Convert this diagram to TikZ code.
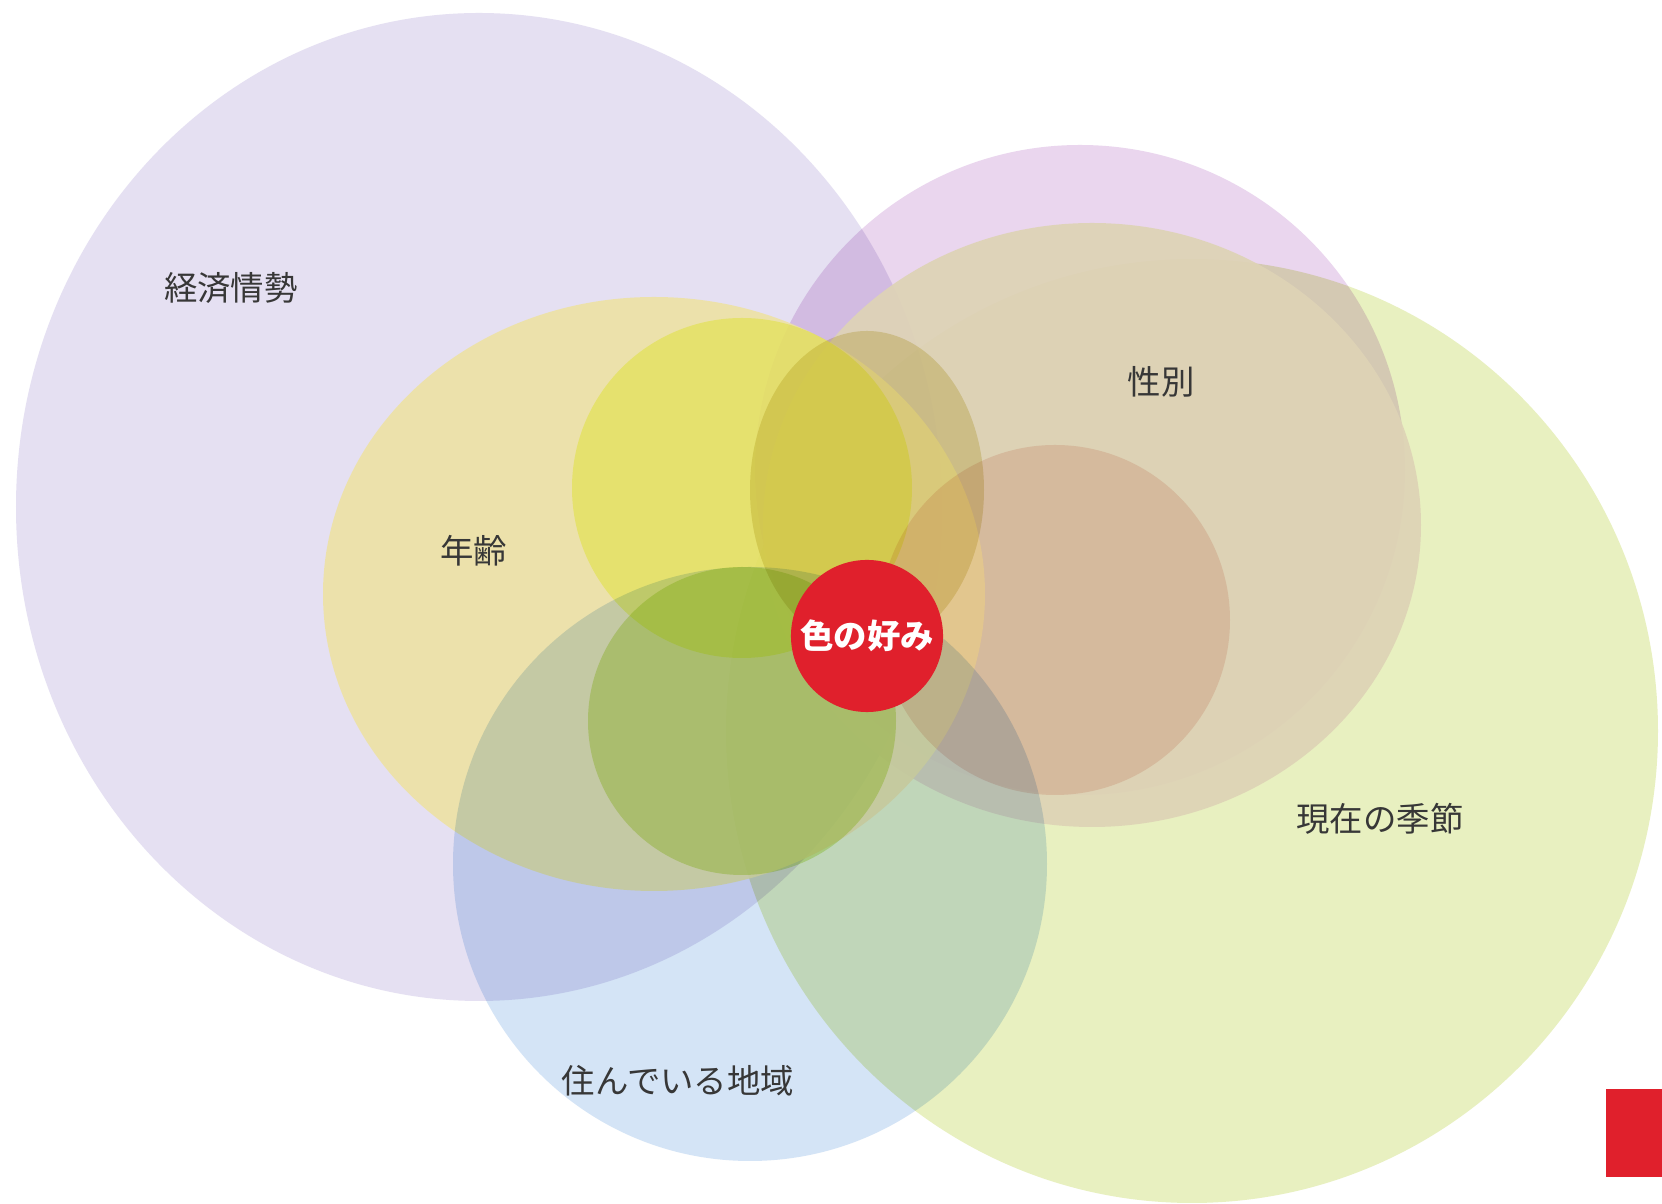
\documentclass[tikz,border=0pt]{standalone}
\usepackage{fontspec}
\newfontfamily\jpfont{Noto Sans CJK JP}
\usepackage{tikz}
\usepackage{xcolor}
\definecolor{lavL}{RGB}{229,224,242}
\definecolor{purP}{RGB}{234,214,238}
\definecolor{grnG}{RGB}{232,240,192}
\definecolor{tanT}{RGB}{222,211,182}
\definecolor{ochO}{RGB}{238,226,162}
\definecolor{bluB}{RGB}{212,228,246}
\definecolor{yelY}{RGB}{248,255,165}
\definecolor{olvV}{RGB}{236,230,190}
\definecolor{grnM}{RGB}{222,240,172}
\definecolor{pnkK}{RGB}{246,226,222}
\definecolor{redC}{RGB}{224,32,44}
\definecolor{labelgray}{RGB}{55,55,55}

\begin{document}
\begin{tikzpicture}[x=0.01cm, y=-0.01cm,
  ink/.style={blend mode=multiply},
  lbl/.style={text=labelgray, font=\jpfont\fontsize{9.5}{11}\selectfont}]
\useasboundingbox (0,0) rectangle (1662,1204);
\fill[white] (0,0) rectangle (1662,1204);
% Factor circles
\fill[lavL, ink] (479,507) ellipse [x radius=463, y radius=494];
\fill[purP, ink] (1080,470) circle [radius=325];
\fill[grnG, ink] (1192,731) ellipse [x radius=466, y radius=472];
\fill[tanT, fill opacity=0.93] (1092,525) ellipse [x radius=329, y radius=302];
\fill[ochO, fill opacity=0.88] (654,594) ellipse [x radius=331, y radius=297];
\fill[bluB, ink] (750,864) circle [radius=297];
\fill[yelY, ink] (742,488) circle [radius=170];
\fill[olvV, ink] (867,490) ellipse [x radius=117, y radius=159];
\fill[grnM, ink] (742,721) circle [radius=154];
\fill[pnkK, ink] (1055,620) circle [radius=175];
\fill[redC] (1606,1089) rectangle (1662,1177);
% Labels
\node[lbl] (econ) at (231,288) {経済情勢};
\node[lbl] (age) at (474,551) {年齢};
\node[lbl] (sex) at (1161,382) {性別};
\node[lbl] (season) at (1380,819) {現在の季節};
\node[lbl] (region) at (678,1081) {住んでいる地域};
\node[circle, fill=redC, minimum size=1.52cm, inner sep=0pt, text=white,
  font=\jpfont\bfseries\fontsize{9.5}{11}\selectfont] (pref) at (867,636) {色の好み};
\end{tikzpicture}
\end{document}
